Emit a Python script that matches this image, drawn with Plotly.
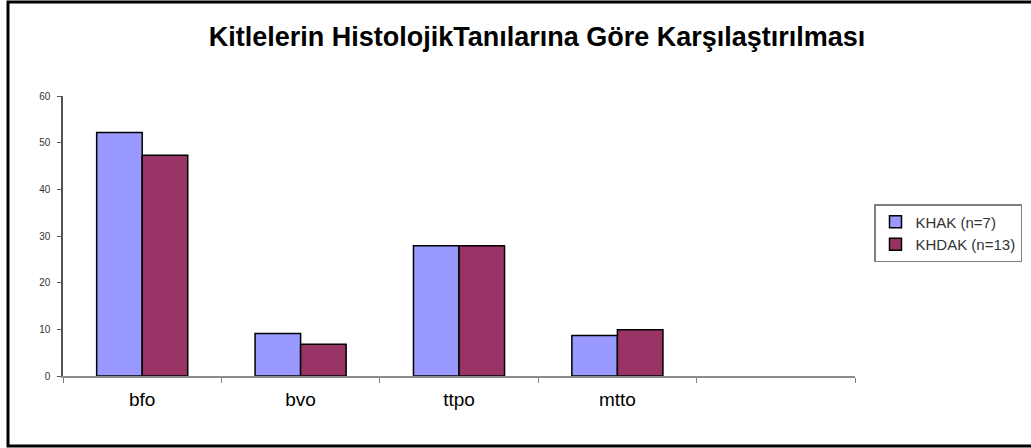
import plotly.graph_objects as go

categories = ["bfo", "bvo", "ttpo", "mtto", " "]
khak = [52.2, 9.1, 27.9, 8.7, None]
khdak = [47.3, 6.8, 27.9, 9.9, None]
series_names = ["KHAK (n=7)", "KHDAK (n=13)"]
y_ticks = [0, 10, 20, 30, 40, 50, 60]

W, H = 1031, 448
L, R, T, B = 63, 176, 96, 72
pw, ph = W - L - R, H - T - B

def px2x(px):
    return (px - L) / pw

def py2y(py):
    return (H - B - py) / ph

fig = go.Figure()
fig.add_trace(go.Bar(x=categories, y=khak, name=series_names[0],
                     marker=dict(color="#9999FF", line=dict(color="#000000", width=1.5))))
fig.add_trace(go.Bar(x=categories, y=khdak, name=series_names[1],
                     marker=dict(color="#993366", line=dict(color="#000000", width=1.5))))

fig.update_layout(
    width=W, height=H,
    margin=dict(l=L, r=R, t=T, b=B, autoexpand=False),
    paper_bgcolor="white", plot_bgcolor="white",
    barmode="group", bargap=0.425, bargroupgap=0,
    font=dict(family="Liberation Sans, Arial, sans-serif", color="#000000"),
    title=dict(text="<b>Kitlelerin HistolojikTanılarına Göre Karşılaştırılması</b>",
               x=537 / W, xanchor="center", xref="container",
               y=1 - 37 / H, yanchor="middle",
               font=dict(size=27, color="#000000")),
    legend=dict(x=px2x(874), y=py2y(204), xanchor="left", yanchor="top",
                bordercolor="#7f7f7f", borderwidth=1.5, bgcolor="white",
                font=dict(size=15, color="#333333"),
                itemwidth=30),
    xaxis=dict(type="category", categoryorder="array", categoryarray=categories,
               range=[-0.5, 4.5], tickson="boundaries", ticks="outside", ticklen=5,
               tickcolor="#808080", showline=True, linecolor="#8c8c8c", linewidth=2,
               showgrid=False, tickfont=dict(size=19, color="#000000"),
               ticklabelstandoff=5, fixedrange=True),
    yaxis=dict(range=[0, 60], tickvals=y_ticks, ticks="outside", ticklen=4,
               tickcolor="#555555", showline=True, linecolor="#555555", linewidth=1.5,
               showgrid=False, zeroline=False, tickfont=dict(size=10, color="#333333"),
               ticklabelstandoff=5),
    shapes=[dict(type="rect", xref="paper", yref="paper",
                 x0=px2x(8), x1=px2x(1036), y0=py2y(446), y1=py2y(2),
                 line=dict(color="#000000", width=3), fillcolor="rgba(0,0,0,0)",
                 layer="above")],
)

fig.write_html("out.html", config={"displayModeBar": False},
               post_script="document.body.style.margin='0';document.body.style.overflow='hidden';")
